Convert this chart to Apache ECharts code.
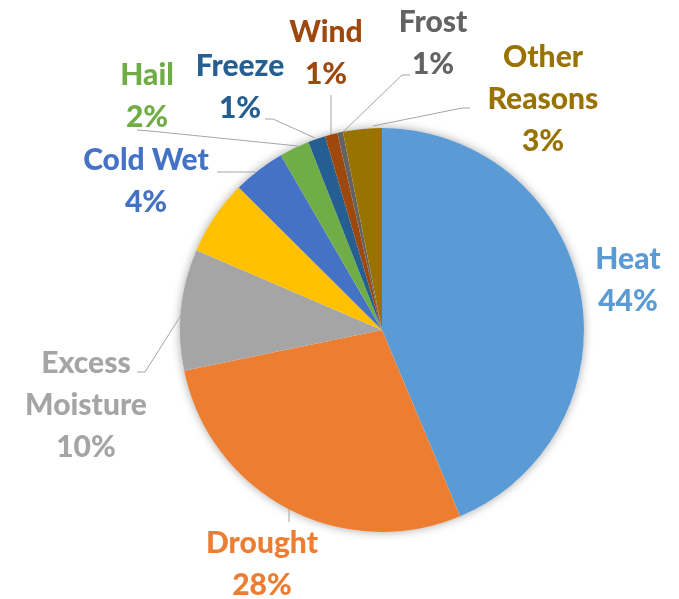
<!DOCTYPE html>
<html>
<head>
<meta charset="utf-8">
<script src="https://cdn.jsdelivr.net/npm/echarts@6/dist/echarts.min.js"></script>
<style>
  html, body { margin: 0; padding: 0; background: #fff; }
</style>
</head>
<body>
<div id="pieChart" style="width:679px;height:599px"></div>
<script>
// crop loss causes, share of total
const categories = ['Heat', 'Drought', 'Excess\nMoisture', '', 'Cold Wet', 'Hail', 'Freeze', 'Wind', 'Frost', 'Other\nReasons'];
const values = [43.7, 28.1, 9.7, 6.0, 4.2, 2.4, 1.4, 1.0, 0.45, 3.1];
const pctLabels = ['44%', '28%', '10%', '', '4%', '2%', '1%', '1%', '1%', '3%'];
const colors = ['#5B9BD5', '#ED7D31', '#A5A5A5', '#FFC000', '#4472C4', '#70AD47', '#255E91', '#9E480E', '#636363', '#997300'];

// where each label sits and how its leader line runs (pixels)
let labelSpots = [
  { x: 628, y: 280, line: null },
  { x: 262, y: 564, line: [[289, 509], [289, 515], [289, 522]] },
  { x: 86, y: 405, line: [[183, 312], [145, 372], [137, 372]] },
  null,
  { x: 146, y: 181, line: [[256, 172], [236, 172], [217, 172]] },
  { x: 147, y: 96, line: [[298, 146], [150, 131], [137, 130]] },
  { x: 240, y: 87, line: [[315, 138], [273, 119], [265, 119]] },
  { x: 326, y: 53, line: [[331, 135], [331, 115], [331, 95]] },
  { x: 433, y: 43, line: [[343, 132], [402, 75], [410, 75]] },
  { x: 543, y: 99, line: [[373, 126], [462, 108], [470, 108]] }
];

let pieData = categories.map((name, i) => ({
  name: name,
  value: values[i],
  itemStyle: { color: colors[i] },
  label: { show: pctLabels[i] !== '', color: colors[i] },
  labelLine: { show: !!(labelSpots[i] && labelSpots[i].line) }
}));

let option = {
  animation: false,
  backgroundColor: '#ffffff',
  series: [
    {
      // soft shadow under the whole pie
      type: 'pie',
      silent: true,
      z: 1,
      center: [382, 330],
      radius: 202,
      label: { show: false },
      labelLine: { show: false },
      itemStyle: { color: '#ffffff', shadowBlur: 10, shadowColor: 'rgba(0,0,0,0.35)' },
      data: [{ value: 1, name: 'shadow' }]
    },
    {
      type: 'pie',
      z: 2,
      center: [382, 330],
      radius: 202,
      startAngle: 90,
      clockwise: true,
      avoidLabelOverlap: false,
      itemStyle: { borderWidth: 0 },
      label: {
        position: 'outside',
        fontFamily: 'Lato',
        fontWeight: 900,
        fontSize: 30,
        lineHeight: 42,
        align: 'center',
        formatter: (p) => p.name + '\n' + pctLabels[p.dataIndex]
      },
      labelLine: {
        lineStyle: { color: '#A6A6A6', width: 1 }
      },
      labelLayout: (params) => {
        let spot = labelSpots[params.dataIndex];
        if (!spot) return {};
        let out = { x: spot.x, y: spot.y, align: 'center', verticalAlign: 'middle' };
        if (spot.line) out.labelLinePoints = spot.line;
        return out;
      },
      data: pieData
    }
  ]
};

let chart = echarts.init(document.getElementById('pieChart'));
chart.setOption(option);
</script>
</body>
</html>
